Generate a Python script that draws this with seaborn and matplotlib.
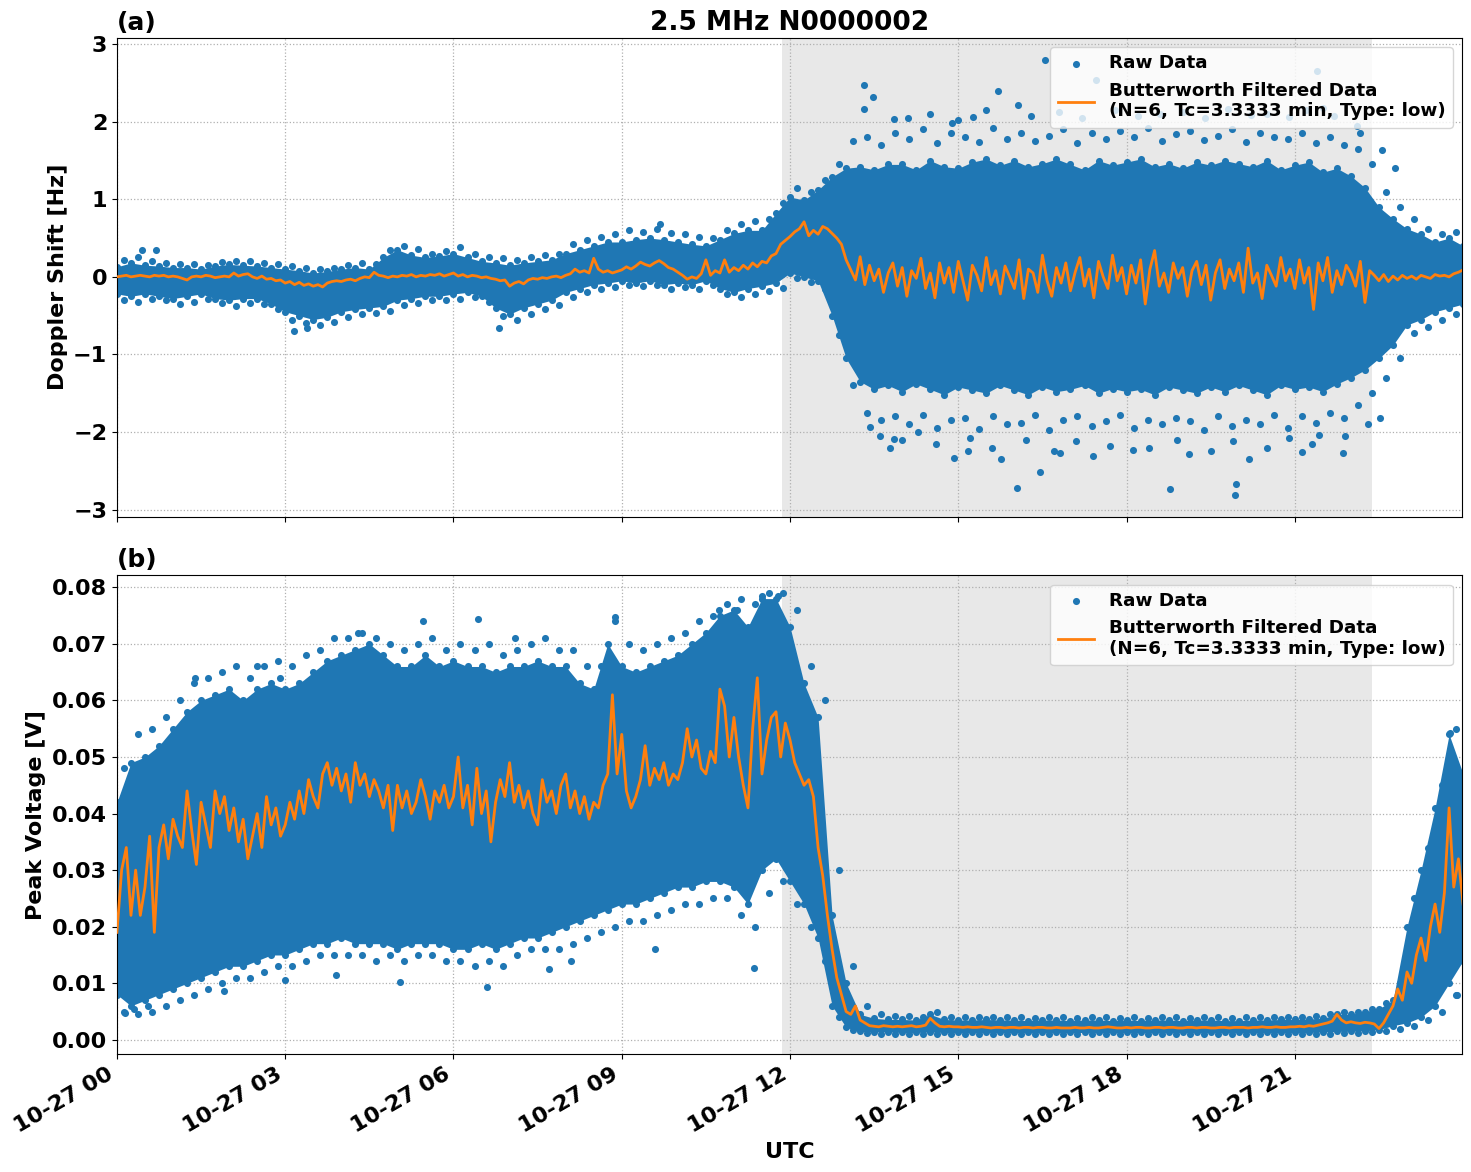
import numpy as np
import pandas as pd
import seaborn as sns
import matplotlib
matplotlib.use('Agg')
from matplotlib import pyplot as plt
import matplotlib.dates as mdates

start = pd.Timestamp('2023-10-27 00:00')
# raw-data envelopes: 15-minute samples 00:00..24:00 (one row per hour)
times = pd.date_range(start, periods=97, freq='15min')
# filtered series: 5-minute samples 00:00..24:00 (one row per hour)
times5 = pd.date_range(start, periods=289, freq='5min')

# ---------------- (a) Doppler shift [Hz] ----------------
dop_hi = [
    0.13, 0.18, 0.15, 0.14,
    0.12, 0.12, 0.10, 0.14,
    0.16, 0.15, 0.14, 0.12,
    0.10, 0.08, 0.05, 0.07,
    0.10, 0.12, 0.10, 0.25,
    0.35, 0.28, 0.25, 0.27,
    0.30, 0.25, 0.20, 0.18,
    0.15, 0.18, 0.20, 0.22,
    0.30, 0.35, 0.40, 0.45,
    0.45, 0.48, 0.50, 0.48,
    0.45, 0.42, 0.40, 0.48,
    0.56, 0.60, 0.60, 0.82,
    1.03, 0.99, 1.12, 1.29,
    1.40, 1.42, 1.38, 1.45,
    1.45, 1.38, 1.50, 1.42,
    1.40, 1.48, 1.52, 1.44,
    1.50, 1.42, 1.46, 1.52,
    1.45, 1.38, 1.50, 1.44,
    1.48, 1.52, 1.42, 1.46,
    1.40, 1.48, 1.44, 1.50,
    1.46, 1.42, 1.50, 1.38,
    1.44, 1.48, 1.35, 1.40,
    1.30, 1.15, 0.90, 0.75,
    0.62, 0.55, 0.45, 0.50,
    0.40,
]
dop_lo = [
    -0.22, -0.25, -0.22, -0.25,
    -0.28, -0.25, -0.22, -0.28,
    -0.30, -0.28, -0.28, -0.35,
    -0.45, -0.50, -0.55, -0.52,
    -0.45, -0.42, -0.40, -0.38,
    -0.30, -0.28, -0.25, -0.25,
    -0.22, -0.20, -0.25, -0.40,
    -0.48, -0.40, -0.35, -0.30,
    -0.20, -0.15, -0.10, -0.08,
    -0.05, -0.08, -0.05, -0.10,
    -0.08, -0.10, -0.05, -0.15,
    -0.20, -0.15, -0.12, -0.08,
    0.05, 0.00, -0.05, -0.50,
    -1.05, -1.35, -1.45, -1.40,
    -1.48, -1.38, -1.45, -1.52,
    -1.42, -1.46, -1.50, -1.40,
    -1.46, -1.52, -1.42, -1.48,
    -1.45, -1.40, -1.50, -1.44,
    -1.48, -1.45, -1.52, -1.42,
    -1.46, -1.50, -1.42, -1.48,
    -1.40, -1.46, -1.52, -1.40,
    -1.45, -1.42, -1.48, -1.38,
    -1.30, -1.20, -1.05, -0.88,
    -0.62, -0.55, -0.45, -0.40,
    -0.35,
]
# sparser raw points just outside the envelope (sampled half-way between envelope times)
dop_fr_hi = [
    0.22, 0.25, 0.20, 0.18,
    0.17, 0.16, 0.15, 0.19,
    0.21, 0.20, 0.18, 0.17,
    0.14, 0.12, 0.10, 0.12,
    0.15, 0.18, 0.16, 0.35,
    0.40, 0.36, 0.30, 0.33,
    0.38, 0.30, 0.25, 0.24,
    0.22, 0.25, 0.28, 0.30,
    0.42, 0.48, 0.52, 0.55,
    0.60, 0.58, 0.62, 0.56,
    0.55, 0.52, 0.50, 0.60,
    0.68, 0.72, 0.75, 0.95,
    1.15, 1.10, 1.25, 1.45,
    1.75, 1.80, 1.70, 1.85,
    1.78, 1.90, 1.72, 1.85,
    1.80, 1.74, 1.92, 1.78,
    1.86, 1.75, 1.82, 1.90,
    1.72, 1.85, 1.78, 1.88,
    1.80, 1.92, 1.75, 1.84,
    1.88, 1.76, 1.82, 1.90,
    1.74, 1.86, 1.80, 1.78,
    1.85, 1.72, 1.80, 1.70,
    1.65, 1.45, 1.10, 0.90,
    0.75, 0.62, 0.55, 0.58,
    0.48,
]
dop_fr_lo = [
    -0.30, -0.32, -0.28, -0.30,
    -0.35, -0.32, -0.28, -0.34,
    -0.38, -0.34, -0.35, -0.42,
    -0.55, -0.60, -0.62, -0.58,
    -0.52, -0.48, -0.46, -0.44,
    -0.36, -0.34, -0.30, -0.30,
    -0.28, -0.26, -0.32, -0.50,
    -0.55, -0.48, -0.42, -0.36,
    -0.26, -0.20, -0.15, -0.13,
    -0.10, -0.12, -0.10, -0.15,
    -0.13, -0.16, -0.10, -0.22,
    -0.26, -0.22, -0.18, -0.14,
    -0.02, -0.06, -0.15, -0.75,
    -1.40, -1.75, -1.85, -1.80,
    -1.90, -1.78, -1.95, -1.84,
    -1.82, -1.96, -1.80, -1.90,
    -1.88, -1.78, -1.98, -1.85,
    -1.80, -1.92, -1.86, -1.78,
    -1.95, -1.84, -1.90, -1.82,
    -1.86, -1.98, -1.80, -1.92,
    -1.84, -1.90, -1.78, -1.95,
    -1.80, -1.88, -1.75, -1.82,
    -1.65, -1.50, -1.30, -1.05,
    -0.72, -0.65, -0.55, -0.48,
    -0.42,
]
dop_filt = [
    0.00, 0.01, 0.02, 0.00, 0.01, 0.02, 0.01, 0.00, 0.02, 0.01, 0.02, 0.00,
    0.01, 0.00, -0.02, -0.04, 0.00, 0.01, 0.00, 0.02, 0.01, -0.01, 0.00, 0.01,
    0.00, 0.05, 0.01, 0.03, 0.04, 0.00, -0.02, 0.01, -0.03, -0.02, -0.05, -0.04,
    -0.08, -0.06, -0.10, -0.07, -0.11, -0.09, -0.12, -0.10, -0.13, -0.08, -0.06, -0.05,
    -0.06, -0.04, -0.03, -0.05, -0.02, 0.00, -0.01, 0.06, 0.02, 0.01, -0.01, 0.01,
    0.00, 0.02, 0.01, 0.03, 0.00, 0.02, 0.01, 0.03, 0.02, 0.04, 0.01, 0.03,
    0.05, 0.01, 0.03, 0.00, 0.02, 0.01, -0.01, 0.00, -0.02, -0.03, -0.05, -0.04,
    -0.12, -0.08, -0.06, -0.09, -0.04, -0.02, -0.03, -0.01, -0.02, 0.00, 0.01, -0.01,
    0.02, 0.04, 0.10, 0.06, 0.08, 0.05, 0.24, 0.10, 0.06, 0.08, 0.05, 0.07,
    0.09, 0.13, 0.10, 0.14, 0.19, 0.16, 0.14, 0.18, 0.21, 0.17, 0.12, 0.10,
    0.06, 0.02, -0.03, 0.00, -0.02, 0.04, 0.22, 0.02, 0.08, 0.05, 0.22, 0.06,
    0.12, 0.08, 0.15, 0.10, 0.18, 0.13, 0.20, 0.18, 0.27, 0.30, 0.42, 0.47,
    0.52, 0.58, 0.62, 0.71, 0.53, 0.60, 0.55, 0.65, 0.62, 0.56, 0.50, 0.42,
    0.22, 0.09, -0.04, 0.26, -0.10, 0.15, -0.05, 0.10, -0.20, 0.05, 0.18, -0.12,
    0.12, -0.25, 0.08, -0.02, 0.24, -0.15, 0.05, -0.27, 0.18, -0.08, 0.12, -0.20,
    0.20, -0.05, -0.30, 0.15, 0.02, -0.18, 0.25, -0.10, 0.08, -0.22, 0.14, 0.00,
    -0.15, 0.22, -0.28, 0.10, 0.05, -0.20, 0.28, -0.05, -0.25, 0.12, -0.08, 0.18,
    -0.18, 0.06, 0.25, -0.12, 0.10, -0.27, 0.20, 0.00, -0.15, 0.28, -0.05, 0.12,
    -0.22, 0.15, -0.08, 0.22, -0.35, 0.10, 0.34, -0.12, 0.05, -0.20, 0.18, -0.02,
    0.12, -0.25, 0.08, 0.20, -0.10, 0.15, -0.30, 0.05, 0.22, -0.15, 0.10, -0.05,
    0.18, -0.20, 0.37, -0.08, 0.05, -0.28, 0.15, 0.02, -0.12, 0.25, -0.05, 0.10,
    -0.15, 0.22, -0.08, 0.12, -0.42, 0.18, -0.05, 0.25, -0.20, 0.08, -0.10, 0.15,
    0.05, -0.12, 0.20, -0.33, 0.08, 0.02, -0.05, 0.03, -0.06, 0.01, -0.04, 0.02,
    -0.02, 0.01, -0.03, 0.02, 0.00, -0.02, 0.03, 0.01, 0.02, 0.00, 0.04, 0.06,
    0.09,
]
# isolated raw points far outside the cloud: (hour, Hz)
dop_out_hr = [0.45, 0.7, 3.15, 3.38, 6.81, 9.68,
              13.31, 13.48, 13.31, 13.85, 14.88, 15.27, 15.71, 16.07, 16.54, 17.46,
              21.40, 21.51, 22.16, 22.56, 22.79, 20.22,
              14.1, 14.5, 15.0, 15.5, 16.3, 16.8, 17.2, 17.8, 18.2, 18.6, 19.0,
              19.4, 19.8, 20.5, 20.9, 21.2, 21.7, 22.1,
              13.79, 13.85, 13.42, 14.28, 14.93, 15.18, 15.77, 16.05, 16.45, 16.81,
              17.41, 18.77, 19.93, 19.95, 20.18, 21.12, 21.86, 22.51, 21.43, 19.12, 18.11,
              13.6, 14.0, 14.6, 15.2, 15.6, 16.2, 16.7, 17.1, 17.7, 18.4, 18.9,
              19.5, 19.9, 20.5, 20.9, 21.3, 21.9, 22.3]
dop_out_val = [0.35, 0.35, -0.70, -0.66, -0.66, 0.68,
               2.48, 2.32, 2.17, 2.03, 1.98, 2.06, 2.39, 2.22, 2.79, 2.54,
               2.65, 2.18, 1.86, 1.64, 1.40, 2.09,
               2.05, 2.10, 2.02, 2.15, 2.08, 2.12, 2.05, 2.15, 2.08, 2.10, 2.13,
               2.05, 2.17, 2.10, 2.06, 2.15, 2.08, 1.95,
               -2.21, -2.09, -1.93, -2.00, -2.33, -2.25, -2.35, -2.72, -2.51, -2.27,
               -2.31, -2.73, -2.81, -2.67, -2.35, -2.26, -2.27, -1.82, -2.04, -2.28, -2.23,
               -2.05, -2.10, -2.15, -2.08, -2.20, -2.10, -2.25, -2.12, -2.18, -2.20, -2.10,
               -2.25, -2.12, -2.20, -2.08, -2.15, -2.05, -1.90]

# ---------------- (b) Peak voltage [V] ----------------
volt_hi = [
    0.042, 0.049, 0.050, 0.052,
    0.055, 0.058, 0.060, 0.061,
    0.062, 0.060, 0.062, 0.063,
    0.062, 0.063, 0.065, 0.067,
    0.068, 0.069, 0.070, 0.068,
    0.066, 0.066, 0.068, 0.066,
    0.067, 0.066, 0.066, 0.065,
    0.066, 0.066, 0.067, 0.066,
    0.066, 0.063, 0.062, 0.070,
    0.066, 0.065, 0.066, 0.067,
    0.068, 0.070, 0.072, 0.075,
    0.076, 0.073, 0.078, 0.078,
    0.073, 0.063, 0.057, 0.022,
    0.010, 0.0045, 0.0038, 0.0036,
    0.0036, 0.0035, 0.0045, 0.0036,
    0.0035, 0.0035, 0.0036, 0.0035,
    0.0035, 0.0034, 0.0035, 0.0035,
    0.0034, 0.0035, 0.0035, 0.0034,
    0.0035, 0.0034, 0.0035, 0.0035,
    0.0034, 0.0035, 0.0035, 0.0034,
    0.0034, 0.0035, 0.0035, 0.0036,
    0.0036, 0.0037, 0.0038, 0.0045,
    0.0045, 0.0050, 0.0055, 0.0070,
    0.020, 0.030, 0.041, 0.054,
    0.047,
]
volt_lo = [
    0.008, 0.006, 0.007, 0.008,
    0.009, 0.010, 0.011, 0.012,
    0.013, 0.013, 0.014, 0.015,
    0.015, 0.016, 0.017, 0.017,
    0.018, 0.017, 0.017, 0.017,
    0.016, 0.017, 0.017, 0.017,
    0.016, 0.016, 0.017, 0.016,
    0.017, 0.018, 0.018, 0.019,
    0.020, 0.021, 0.022, 0.023,
    0.024, 0.024, 0.025, 0.026,
    0.027, 0.027, 0.028, 0.028,
    0.027, 0.024, 0.030, 0.032,
    0.028, 0.024, 0.018, 0.006,
    0.0022, 0.0015, 0.0014, 0.0014,
    0.0013, 0.0013, 0.0014, 0.0013,
    0.0013, 0.0013, 0.0013, 0.0013,
    0.0013, 0.0013, 0.0013, 0.0013,
    0.0013, 0.0013, 0.0013, 0.0013,
    0.0013, 0.0013, 0.0013, 0.0013,
    0.0013, 0.0013, 0.0013, 0.0013,
    0.0013, 0.0013, 0.0013, 0.0013,
    0.0013, 0.0013, 0.0014, 0.0015,
    0.0015, 0.0016, 0.0018, 0.0025,
    0.003, 0.004, 0.006, 0.010,
    0.014,
]
volt_fr_hi = [
    0.048, 0.054, 0.055, 0.057,
    0.060, 0.063, 0.064, 0.065,
    0.066, 0.064, 0.066, 0.067,
    0.066, 0.068, 0.069, 0.071,
    0.071, 0.072, 0.071, 0.070,
    0.069, 0.070, 0.071, 0.069,
    0.070, 0.069, 0.070, 0.068,
    0.069, 0.070, 0.071, 0.069,
    0.069, 0.066, 0.066, 0.074,
    0.070, 0.069, 0.070, 0.071,
    0.072, 0.074, 0.075, 0.077,
    0.078, 0.077, 0.079, 0.079,
    0.076, 0.066, 0.060, 0.030,
    0.013, 0.006, 0.0045, 0.0042,
    0.0042, 0.0041, 0.0050, 0.0041,
    0.0040, 0.0041, 0.0040, 0.0040,
    0.0040, 0.0039, 0.0040, 0.0041,
    0.0039, 0.0040, 0.0040, 0.0039,
    0.0040, 0.0039, 0.0040, 0.0040,
    0.0039, 0.0040, 0.0040, 0.0039,
    0.0040, 0.0040, 0.0041, 0.0041,
    0.0040, 0.0042, 0.0045, 0.0050,
    0.0050, 0.0055, 0.0065, 0.010,
    0.025, 0.034, 0.045, 0.055,
    0.050,
]
volt_fr_lo = [
    0.005, 0.0045, 0.005, 0.006,
    0.007, 0.008, 0.009, 0.010,
    0.011, 0.011, 0.012, 0.013,
    0.013, 0.014, 0.015, 0.015,
    0.015, 0.015, 0.014, 0.015,
    0.014, 0.015, 0.015, 0.014,
    0.014, 0.013, 0.014, 0.013,
    0.015, 0.016, 0.016, 0.016,
    0.017, 0.018, 0.019, 0.020,
    0.021, 0.021, 0.022, 0.023,
    0.024, 0.024, 0.025, 0.025,
    0.022, 0.020, 0.026, 0.028,
    0.024, 0.020, 0.014, 0.004,
    0.0018, 0.0012, 0.0011, 0.0011,
    0.0011, 0.0011, 0.0011, 0.0011,
    0.0011, 0.0011, 0.0011, 0.0011,
    0.0011, 0.0011, 0.0011, 0.0011,
    0.0011, 0.0011, 0.0011, 0.0011,
    0.0011, 0.0011, 0.0011, 0.0011,
    0.0011, 0.0011, 0.0011, 0.0011,
    0.0011, 0.0011, 0.0011, 0.0011,
    0.0011, 0.0011, 0.0011, 0.0012,
    0.0012, 0.0013, 0.0015, 0.0020,
    0.0025, 0.0035, 0.0050, 0.0080,
    0.011,
]
volt_filt = [
    0.019, 0.030, 0.034, 0.022, 0.030, 0.022, 0.027, 0.036, 0.019, 0.034, 0.038, 0.032,
    0.039, 0.036, 0.034, 0.044, 0.037, 0.031, 0.042, 0.038, 0.034, 0.044, 0.040, 0.043,
    0.037, 0.041, 0.035, 0.039, 0.032, 0.036, 0.040, 0.034, 0.043, 0.038, 0.041, 0.036,
    0.038, 0.042, 0.039, 0.044, 0.040, 0.046, 0.043, 0.041, 0.047, 0.049, 0.045, 0.048,
    0.044, 0.047, 0.042, 0.049, 0.045, 0.047, 0.043, 0.046, 0.044, 0.041, 0.045, 0.037,
    0.045, 0.041, 0.044, 0.040, 0.042, 0.046, 0.043, 0.039, 0.044, 0.042, 0.045, 0.041,
    0.043, 0.050, 0.041, 0.045, 0.038, 0.048, 0.040, 0.044, 0.035, 0.042, 0.046, 0.043,
    0.049, 0.042, 0.045, 0.041, 0.044, 0.040, 0.038, 0.046, 0.042, 0.044, 0.040, 0.045,
    0.047, 0.041, 0.044, 0.040, 0.043, 0.039, 0.042, 0.041, 0.045, 0.047, 0.061, 0.047,
    0.054, 0.044, 0.041, 0.043, 0.046, 0.052, 0.045, 0.048, 0.046, 0.049, 0.045, 0.047,
    0.046, 0.049, 0.055, 0.050, 0.053, 0.048, 0.047, 0.051, 0.049, 0.062, 0.059, 0.050,
    0.057, 0.050, 0.045, 0.041, 0.055, 0.064, 0.047, 0.053, 0.057, 0.058, 0.050, 0.056,
    0.053, 0.049, 0.047, 0.045, 0.046, 0.043, 0.034, 0.029, 0.022, 0.016, 0.011, 0.008,
    0.0050, 0.0045, 0.0060, 0.0035, 0.0030, 0.0025, 0.0024, 0.0023, 0.0025, 0.0024, 0.0023, 0.0024,
    0.0023, 0.0024, 0.0025, 0.0023, 0.0024, 0.0026, 0.0038, 0.0030, 0.0024, 0.0023, 0.0024, 0.0023,
    0.0023, 0.0022, 0.0023, 0.0022, 0.0022, 0.0023, 0.0022, 0.0021, 0.0022, 0.0022, 0.0021, 0.0022,
    0.0022, 0.0021, 0.0022, 0.0022, 0.0021, 0.0022, 0.0022, 0.0021, 0.0021, 0.0022, 0.0021, 0.0021,
    0.0021, 0.0022, 0.0021, 0.0021, 0.0022, 0.0021, 0.0021, 0.0022, 0.0023, 0.0022, 0.0021, 0.0021,
    0.0022, 0.0021, 0.0022, 0.0022, 0.0021, 0.0021, 0.0022, 0.0022, 0.0021, 0.0022, 0.0022, 0.0021,
    0.0021, 0.0022, 0.0022, 0.0021, 0.0022, 0.0022, 0.0021, 0.0021, 0.0022, 0.0022, 0.0021, 0.0022,
    0.0022, 0.0022, 0.0021, 0.0022, 0.0022, 0.0023, 0.0022, 0.0022, 0.0023, 0.0022, 0.0022, 0.0023,
    0.0023, 0.0024, 0.0023, 0.0025, 0.0024, 0.0026, 0.0028, 0.0030, 0.0033, 0.0045, 0.0035, 0.0030,
    0.0032, 0.0030, 0.0029, 0.0031, 0.0030, 0.0028, 0.0020, 0.0030, 0.0045, 0.0060, 0.0090, 0.0070,
    0.012, 0.010, 0.015, 0.018, 0.014, 0.020, 0.024, 0.019, 0.026, 0.041, 0.027, 0.032,
    0.024,
]
volt_out_hr = [0.15, 1.9, 5.04, 6.6, 5.46, 6.43, 8.88, 10.73, 11.05,
               11.5, 11.78, 11.35, 23.76, 23.89, 0.3, 0.55, 2.9, 4.3,
               3.0, 3.9, 7.7, 8.1, 9.6, 1.4, 2.5, 7.1]
volt_out_val = [0.0047, 0.0086, 0.0103, 0.0094, 0.074, 0.0744, 0.0747, 0.076, 0.076,
                0.0785, 0.0785, 0.0127, 0.0543, 0.008, 0.0055, 0.006, 0.064, 0.072,
                0.0105, 0.0115, 0.0125, 0.014, 0.016, 0.064, 0.066, 0.071]

shade_start = start + pd.Timedelta(hours=11, minutes=51)
shade_end = start + pd.Timedelta(hours=22, minutes=23)

plt.rcParams['font.weight'] = 'bold'
plt.rcParams['axes.labelweight'] = 'bold'
plt.rcParams['axes.titleweight'] = 'bold'

blue = '#1f77b4'
orange = '#ff7f0e'

fig, axes = plt.subplots(2, 1, figsize=(14.71, 11.72), dpi=100, sharex=True)

panels = [
    (axes[0], dop_lo, dop_hi, dop_fr_lo, dop_fr_hi, dop_filt, dop_out_hr, dop_out_val,
     'Doppler Shift [Hz]', (-3.09, 3.08), '(a)'),
    (axes[1], volt_lo, volt_hi, volt_fr_lo, volt_fr_hi, volt_filt, volt_out_hr, volt_out_val,
     'Peak Voltage [V]', (-0.0025, 0.0821), '(b)'),
]

half_step = pd.Timedelta(minutes=7, seconds=30)
for ax, lo, hi, fr_lo, fr_hi, filt, out_hr, out_val, ylabel, ylim, tag in panels:
    ax.axvspan(shade_start, shade_end, color='gray', alpha=0.18, lw=0, zorder=0)
    # dense raw-data cloud
    ax.fill_between(times, lo, hi, color=blue, lw=0, zorder=2)
    edge_t = list(times) * 2 + list(times + half_step) * 2
    edge_v = list(lo) + list(hi) + list(fr_lo) + list(fr_hi)
    sns.scatterplot(x=edge_t, y=edge_v, ax=ax, color=blue, s=26, linewidth=0,
                    zorder=2, label='Raw Data')
    out_t = [start + pd.Timedelta(hours=h) for h in out_hr]
    sns.scatterplot(x=out_t, y=out_val, ax=ax, color=blue, s=26, linewidth=0, zorder=2)
    sns.lineplot(x=times5, y=filt, ax=ax, color=orange, lw=2, zorder=3,
                 label='Butterworth Filtered Data\n(N=6, Tc=3.3333 min, Type: low)')
    ax.set_ylim(*ylim)
    ax.set_ylabel(ylabel, fontsize=16)
    ax.set_title(tag, loc='left', fontsize=18)
    ax.grid(True, linestyle=':', color='#b0b0b0', linewidth=0.9)
    ax.tick_params(labelsize=16)
    ax.legend(loc='upper right', prop={'size': 13.2, 'weight': 'bold'})

axes[0].set_title('2.5 MHz N0000002', fontsize=19)
axes[0].set_yticks([-3, -2, -1, 0, 1, 2, 3])
axes[1].set_yticks(np.arange(0, 0.081, 0.01))

axes[1].set_xlim(start, start + pd.Timedelta(hours=23, minutes=59))
axes[1].xaxis.set_major_locator(mdates.HourLocator(byhour=range(0, 24, 3)))
axes[1].xaxis.set_major_formatter(mdates.DateFormatter('%m-%d %H'))
axes[1].set_xlabel('UTC', fontsize=16)
fig.autofmt_xdate(rotation=30, ha='right')

fig.subplots_adjust(left=0.0795, right=0.994, top=0.9676, bottom=0.1007, hspace=0.123)
fig.savefig('out.png', dpi=100)
